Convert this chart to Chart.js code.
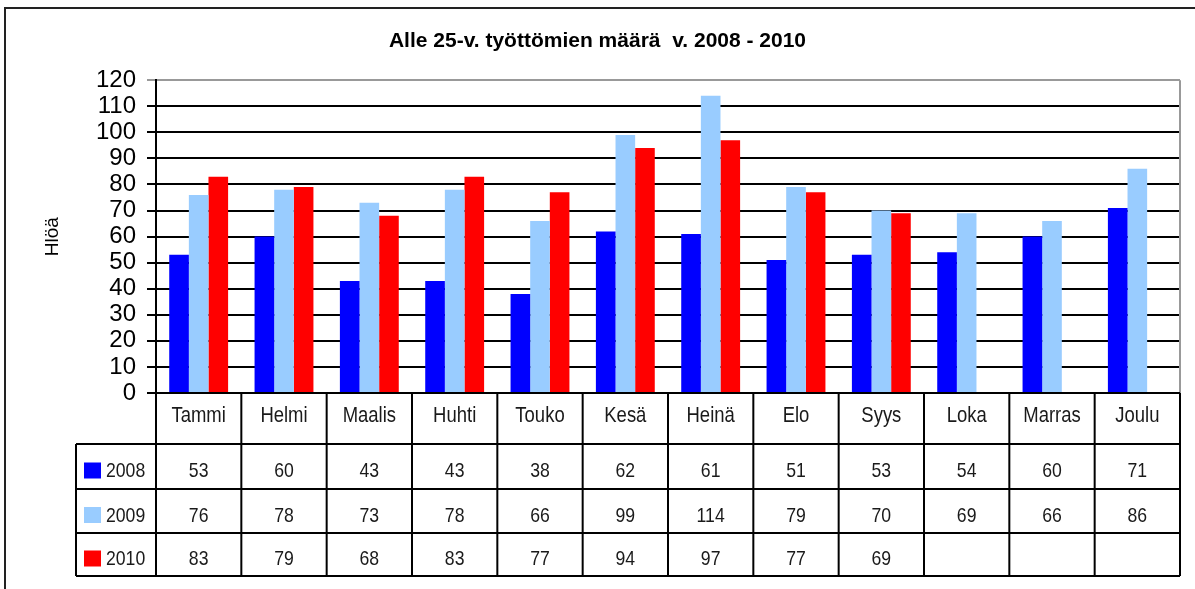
<!DOCTYPE html>
<html>
<head>
<meta charset="utf-8">
<script src="https://cdn.jsdelivr.net/npm/chart.js@4"></script>
<style>
  body { margin: 0; background: #fff; }
  #wrap { width: 1195px; height: 589px; }
</style>
</head>
<body>
<div id="wrap"><canvas id="myChart" width="1195" height="589"></canvas></div>
<script>
const months = ['Tammi', 'Helmi', 'Maalis', 'Huhti', 'Touko', 'Kesä', 'Heinä', 'Elo', 'Syys', 'Loka', 'Marras', 'Joulu'];
const years = ['2008', '2009', '2010'];
const v2008 = [53, 60, 43, 43, 38, 62, 61, 51, 53, 54, 60, 71];
const v2009 = [76, 78, 73, 78, 66, 99, 114, 79, 70, 69, 66, 86];
const v2010 = [83, 79, 68, 83, 77, 94, 97, 77, 69, null, null, null];
const yMin = 0, yMax = 120, yStep = 10;

const colors = ['#0000ff', '#99ccff', '#ff0000'];
const arial = '"Liberation Sans", Arial, sans-serif';

// outer frame of the whole picture
const framePlugin = {
  id: 'frame',
  beforeDraw(chart) {
    const c = chart.ctx;
    c.save();
    c.strokeStyle = '#222';
    c.lineWidth = 2;
    c.strokeRect(5, 8, 1200, 600);
    c.restore();
  }
};

// narrow text, like Arial Narrow
function narrowText(c, txt, x, y, align) {
  const sx = 0.84;
  c.save();
  c.translate(x, y);
  c.scale(sx, 1);
  c.textAlign = align;
  c.fillText(txt, 0, 0);
  c.restore();
}

// data table under the plot (categories + values per year)
const tablePlugin = {
  id: 'dataTable',
  afterDraw(chart) {
    const c = chart.ctx;
    const x = chart.scales.x;
    const area = chart.chartArea;
    const w = (x.right - x.left) / months.length;
    const top = area.bottom;
    const rowH = [51, 45, 44, 43];
    const legendLeft = 76;
    let ys = [top];
    rowH.forEach(h => ys.push(ys[ys.length - 1] + h));

    c.save();
    // plot border right side (grey)
    c.strokeStyle = '#999';
    c.lineWidth = 2;
    c.beginPath();
    c.moveTo(area.right, area.top);
    c.lineTo(area.right, area.bottom);
    c.stroke();

    c.strokeStyle = '#000';
    c.lineWidth = 2;
    c.beginPath();
    c.moveTo(area.left, ys[0]); c.lineTo(area.right, ys[0]);
    for (let r = 1; r < ys.length; r++) {
      c.moveTo(legendLeft, ys[r]); c.lineTo(area.right, ys[r]);
    }
    for (let i = 0; i <= months.length; i++) {
      const px = x.left + i * w;
      c.moveTo(px, ys[0]); c.lineTo(px, ys[ys.length - 1]);
    }
    c.moveTo(legendLeft, ys[1]); c.lineTo(legendLeft, ys[ys.length - 1]);
    c.stroke();

    c.fillStyle = '#1a1a1a';
    c.textBaseline = 'middle';
    c.font = '22px ' + arial;
    months.forEach((m, i) => {
      narrowText(c, m, x.getPixelForValue(i), (ys[0] + ys[1]) / 2 - 3, 'center');
    });
    c.font = '21px ' + arial;
    chart.data.datasets.forEach((ds, r) => {
      const cy = (ys[r + 1] + ys[r + 2]) / 2 + 5;
      ds.data.forEach((v, i) => {
        if (v !== null) narrowText(c, String(v), x.getPixelForValue(i), cy, 'center');
      });
      c.fillStyle = ds.backgroundColor;
      c.fillRect(legendLeft + 8, cy - 9, 17, 16);
      c.fillStyle = '#1a1a1a';
      narrowText(c, ds.label, legendLeft + 30, cy, 'left');
    });
    c.restore();
  }
};

const ctx = document.getElementById('myChart');
new Chart(ctx, {
  type: 'bar',
  data: {
    labels: months,
    datasets: [
      { label: years[0], data: v2008, backgroundColor: colors[0] },
      { label: years[1], data: v2009, backgroundColor: colors[1] },
      { label: years[2], data: v2010, backgroundColor: colors[2] }
    ]
  },
  options: {
    responsive: false,
    devicePixelRatio: 1,
    animation: false,
    layout: { padding: { left: 15, right: 15, top: 0, bottom: 196 } },
    datasets: { bar: { categoryPercentage: 0.69, barPercentage: 1.0 } },
    plugins: {
      legend: { display: false },
      tooltip: { enabled: false },
      title: {
        display: true,
        text: 'Alle 25-v. työttömien määrä  v. 2008 - 2010',
        color: '#000',
        font: { family: arial, size: 21, weight: 'bold' },
        padding: { top: 29, bottom: 26 }
      }
    },
    scales: {
      x: { display: false },
      y: {
        min: yMin,
        max: yMax,
        afterFit(scale) { scale.width = 141; },
        ticks: {
          stepSize: yStep,
          autoSkip: false,
          color: '#000',
          padding: 11,
          font: { family: arial, size: 24 }
        },
        grid: {
          color: c => (c.tick && c.tick.value === yMax) ? '#999' : '#000',
          lineWidth: 2,
          tickLength: 9
        },
        border: { display: true, color: '#000', width: 2 },
        title: {
          display: true,
          text: 'Hlöä',
          color: '#000',
          font: { family: arial, size: 19 },
          padding: { top: 26, bottom: 0 }
        }
      }
    }
  },
  plugins: [framePlugin, tablePlugin]
});
</script>
</body>
</html>
